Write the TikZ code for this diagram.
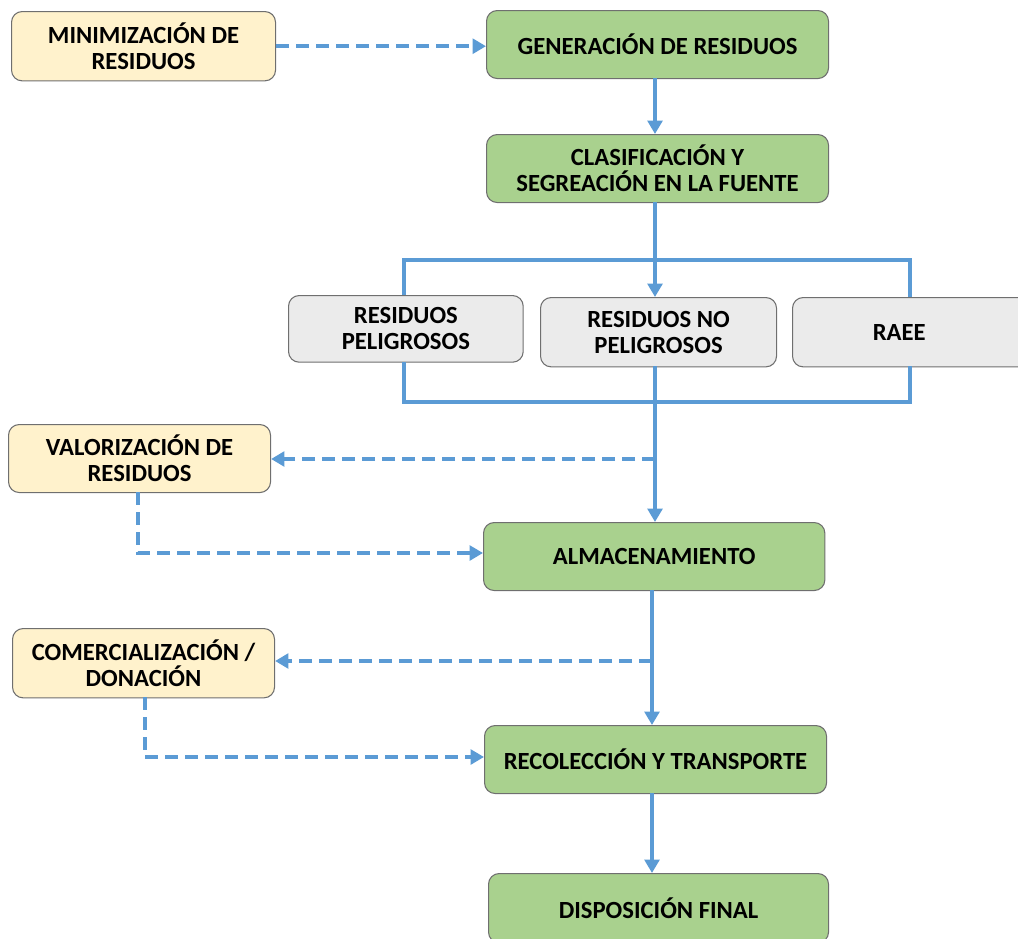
\documentclass[tikz,border=0pt]{standalone}
\usepackage{fontspec}
\setmainfont{Carlito}
\usetikzlibrary{arrows.meta}
\definecolor{lineblue}{HTML}{5B9BD5}
\definecolor{ylw}{HTML}{FFF2CC}
\definecolor{grn}{HTML}{A9D18E}
\definecolor{gry}{HTML}{EBEBEB}
\definecolor{bord}{HTML}{6F6F6F}
\tikzset{
  box/.style={draw=bord, line width=0.8pt, rounded corners=8pt, align=center, anchor=north west,
    font=\fontsize{18.5}{19.5}\selectfont\bfseries, text=black},
  conn/.style={draw=lineblue, line width=3pt},
  arr/.style={conn, -{Triangle[length=10pt,width=11pt]}},
  darr/.style={arr, dash pattern=on 10pt off 5pt},
  dline/.style={conn, dash pattern=on 10pt off 5pt},
}
\begin{document}
\begin{tikzpicture}[x=0.75pt,y=-0.75pt]
\useasboundingbox (0,0) rectangle (1018,939);
% boxes
\node[box, fill=ylw, minimum width=198pt, minimum height=52pt] (min) at (11,11) {MINIMIZACIÓN DE\\RESIDUOS};
\node[box, fill=grn, minimum width=256.5pt, minimum height=51pt] (gen) at (486,10) {GENERACIÓN DE RESIDUOS};
\node[box, fill=grn, minimum width=256.5pt, minimum height=51pt] (clas) at (486,134) {CLASIFICACIÓN Y\\SEGREACIÓN EN LA FUENTE};
\node[box, fill=gry, minimum width=176pt, minimum height=50pt] (rp) at (288,295) {RESIDUOS\\PELIGROSOS};
\node[box, fill=gry, minimum width=177pt, minimum height=52pt] (rnp) at (540,297) {RESIDUOS NO\\PELIGROSOS};
\node[box, fill=gry, minimum width=180pt, minimum height=52pt] (raee) at (792,297) {\hspace*{-20pt}RAEE};
\node[box, fill=ylw, minimum width=196.5pt, minimum height=51pt] (val) at (8,424) {VALORIZACIÓN DE\\RESIDUOS};
\node[box, fill=grn, minimum width=256pt, minimum height=51pt] (alm) at (483,522) {ALMACENAMIENTO};
\node[box, fill=ylw, minimum width=196.5pt, minimum height=52pt] (com) at (12,628) {COMERCIALIZACIÓN /\\DONACIÓN};
\node[box, fill=grn, minimum width=256.5pt, minimum height=51pt] (rec) at (484,725) {RECOLECCIÓN Y TRANSPORTE};
\node[box, fill=grn, minimum width=255pt, minimum height=52pt] (disp) at (488,873) {DISPOSICIÓN FINAL};
% coordinates
\coordinate (t1) at (404,260);
\coordinate (t2) at (910,260);
\coordinate (b1) at (404,402);
\coordinate (b2) at (910,402);
\coordinate (j1) at (655,459);
\coordinate (j2) at (652,661);
% connectors
\draw[darr] (min.east) -- (gen.west |- min.east);
\draw[arr] (655,78) -- (655,134);
\draw[arr] (655,202) -- (655,297);
\draw[conn] (404,295) -- (t1) -- (t2) -- (910,297);
\draw[conn] (404,362) -- (b1) -- (b2) -- (910,366);
\draw[arr] (655,366) -- (655,522);
\draw[darr] (j1) -- (val.east |- j1);
\draw[darr] (138,492) -- (138,553) -- (alm.west |- 0,553);
\draw[arr] (652,590) -- (652,725);
\draw[darr] (j2) -- (com.east |- j2);
\draw[darr] (145,697) -- (145,757) -- (rec.west |- 0,757);
\draw[arr] (652,793) -- (652,873);
\end{tikzpicture}
\end{document}
